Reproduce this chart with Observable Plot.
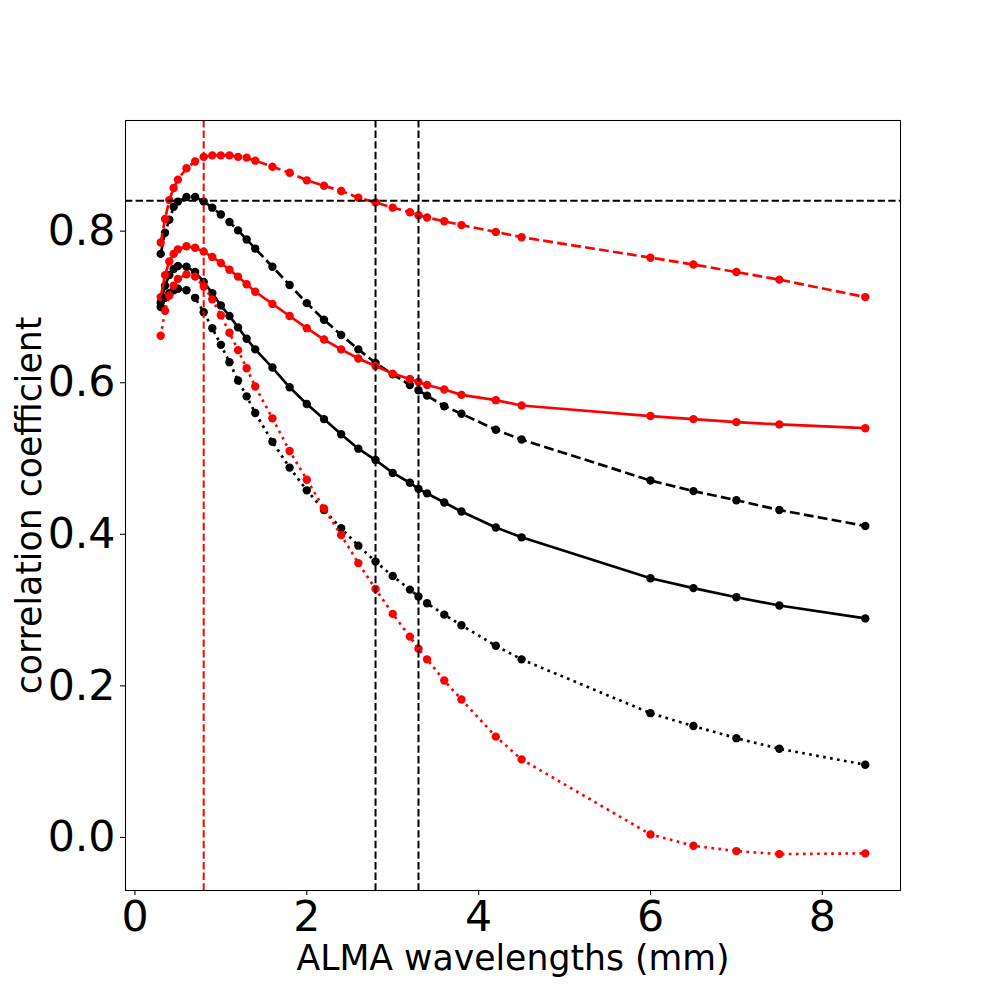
<!DOCTYPE html>
<html><head><meta charset="utf-8">
<script src="https://cdn.jsdelivr.net/npm/d3@7"></script>
<script src="https://cdn.jsdelivr.net/npm/@observablehq/plot@0.6"></script>
<style>
body{margin:0;background:#fff;}
#chart svg{font-family:"DejaVu Sans",sans-serif;}
</style>
</head><body><div id="chart"></div>
<script>
// ALMA wavelengths (mm)
const wavelengths = [0.3, 0.35, 0.4, 0.45, 0.5, 0.6, 0.7, 0.8, 0.9, 1.0, 1.1, 1.2, 1.3, 1.4, 1.6, 1.8, 2.0, 2.2, 2.4, 2.6, 2.8, 3.0, 3.2, 3.3, 3.4, 3.6, 3.8, 4.2, 4.5, 6.0, 6.5, 7.0, 7.5, 8.5];

const blackDashed = [0.770, 0.798, 0.815, 0.832, 0.839, 0.845, 0.845, 0.839, 0.831, 0.822, 0.812, 0.801, 0.789, 0.777, 0.753, 0.729, 0.705, 0.683, 0.663, 0.644, 0.626, 0.611, 0.597, 0.590, 0.583, 0.569, 0.559, 0.538, 0.525, 0.471, 0.457, 0.445, 0.432, 0.411];
const redDashed = [0.785, 0.816, 0.841, 0.857, 0.868, 0.883, 0.892, 0.898, 0.900, 0.900, 0.900, 0.898, 0.897, 0.893, 0.885, 0.877, 0.867, 0.860, 0.853, 0.844, 0.838, 0.831, 0.825, 0.821, 0.818, 0.813, 0.808, 0.799, 0.792, 0.765, 0.756, 0.746, 0.736, 0.713];
const blackSolid = [0.706, 0.728, 0.742, 0.750, 0.754, 0.753, 0.746, 0.733, 0.718, 0.702, 0.688, 0.673, 0.658, 0.644, 0.620, 0.594, 0.572, 0.552, 0.532, 0.513, 0.498, 0.481, 0.468, 0.460, 0.454, 0.442, 0.430, 0.409, 0.396, 0.342, 0.329, 0.317, 0.306, 0.289];
const redSolid = [0.713, 0.742, 0.760, 0.770, 0.776, 0.780, 0.778, 0.773, 0.766, 0.758, 0.749, 0.740, 0.730, 0.720, 0.704, 0.688, 0.672, 0.657, 0.644, 0.632, 0.622, 0.612, 0.605, 0.601, 0.597, 0.591, 0.584, 0.577, 0.570, 0.556, 0.552, 0.548, 0.545, 0.540];
const blackDotted = [0.700, 0.712, 0.718, 0.722, 0.724, 0.722, 0.712, 0.693, 0.672, 0.650, 0.627, 0.603, 0.582, 0.560, 0.522, 0.488, 0.458, 0.432, 0.408, 0.385, 0.364, 0.345, 0.327, 0.318, 0.309, 0.294, 0.280, 0.253, 0.235, 0.164, 0.147, 0.131, 0.117, 0.096];
const redDotted = [0.662, 0.695, 0.715, 0.728, 0.737, 0.743, 0.740, 0.727, 0.710, 0.689, 0.666, 0.643, 0.619, 0.595, 0.553, 0.510, 0.472, 0.434, 0.399, 0.362, 0.328, 0.295, 0.265, 0.249, 0.235, 0.207, 0.182, 0.133, 0.103, 0.004, -0.011, -0.018, -0.022, -0.021];

const xTicks = [0, 2, 4, 6, 8];
const yTicks = [0.0, 0.2, 0.4, 0.6, 0.8];
const refRedX = [0.8];
const refBlackX = [2.8, 3.3];
const refBlackY = [0.84];

const xLabel = "ALMA wavelengths (mm)";
const yLabel = "correlation coefficient";

const DASH = "9.87,4.27";
const DOT = "2.67,4.4";
const series = [
  {values: blackDashed, color: "black", dash: DASH},
  {values: redDashed, color: "red", dash: DASH},
  {values: blackSolid, color: "black", dash: null},
  {values: redSolid, color: "red", dash: null},
  {values: blackDotted, color: "black", dash: DOT},
  {values: redDotted, color: "red", dash: DOT}
];

const marks = [];
for (const s of series) {
  const rows = wavelengths.map((w, i) => ({x: w, y: s.values[i]}));
  marks.push(Plot.line(rows, {x: "x", y: "y", stroke: s.color, strokeWidth: 2.67,
    strokeDasharray: s.dash || undefined, strokeLinecap: "butt", strokeLinejoin: "round"}));
  marks.push(Plot.dot(rows, {x: "x", y: "y", r: 4.2, fill: s.color, stroke: "none"}));
}

marks.push(Plot.ruleX(refRedX, {stroke: "red", strokeWidth: 2, strokeDasharray: "7.4,3.2"}));
marks.push(Plot.ruleX(refBlackX, {stroke: "black", strokeWidth: 2, strokeDasharray: "7.4,3.2"}));
marks.push(Plot.ruleY(refBlackY, {stroke: "black", strokeWidth: 2, strokeDasharray: "7.4,3.2"}));

marks.push(Plot.frame({stroke: "black", strokeWidth: 1.07}));
marks.push(Plot.axisX({ticks: xTicks, tickFormat: d => String(d), tickSize: 5, tickPadding: 5,
  fontSize: 42.67, label: null, stroke: "black", strokeWidth: 1.07, fill: "black"}));
marks.push(Plot.axisY({ticks: yTicks, tickFormat: d3.format(".1f"), tickSize: 5, tickPadding: 5,
  fontSize: 42.67, label: null, stroke: "black", strokeWidth: 1.07, fill: "black"}));
marks.push(Plot.text([xLabel], {frameAnchor: "bottom", textAnchor: "middle", dy: 79, fontSize: 34.67, fill: "black", text: d => d}));
marks.push(Plot.text([yLabel], {frameAnchor: "left", textAnchor: "middle", dx: -96, rotate: -90, fontSize: 34.67, fill: "black", text: d => d}));

const chart = Plot.plot({
  width: 1000,
  height: 1000,
  marginLeft: 125,
  marginRight: 100,
  marginTop: 120,
  marginBottom: 110,
  x: {domain: [-0.11, 8.91]},
  y: {domain: [-0.07, 0.946]},
  style: {fontFamily: "DejaVu Sans", background: "white", color: "black", overflow: "visible"},
  marks
});
document.getElementById("chart").appendChild(chart);
</script>
</body></html>
